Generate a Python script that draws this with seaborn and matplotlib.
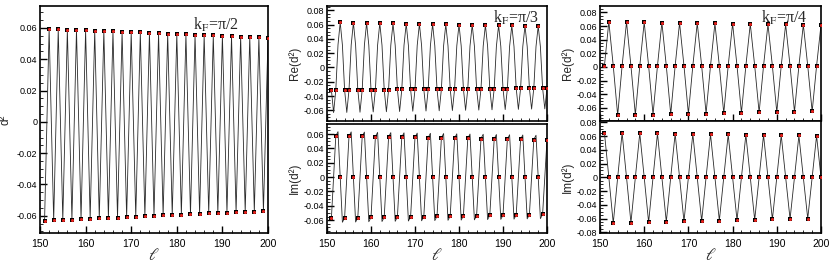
import numpy as np
import pandas as pd
import matplotlib
matplotlib.use("Agg")
import matplotlib.pyplot as plt
import seaborn as sns
from matplotlib.ticker import MultipleLocator, FuncFormatter

# --- kF = pi/2 : d^2 at integer l ---
l_odd = list(range(151, 200, 2))
l_even = list(range(152, 201, 2))
d2_low = [-.0632, -.0629, -.0627, -.0624, -.0622, -.0619, -.0616, -.0614, -.0611, -.0609,
          -.0606, -.0604, -.0601, -.0598, -.0596, -.0593, -.0591, -.0588, -.0585, -.0583,
          -.0580, -.0578, -.0575, -.0573, -.0570]
d2_up = [.0594, .0592, .0589, .0587, .0585, .0582, .0580, .0578, .0575, .0573,
         .0571, .0568, .0566, .0564, .0561, .0559, .0557, .0554, .0552, .0550,
         .0547, .0545, .0543, .0540, .0538]

# --- kF = pi/3 : curve read every half step, markers on integer l ---
l_half = [151 + 0.5 * i for i in range(99)]
re_pi3 = [-.0316, -.0632, -.0316, .0316,
          .0630, .0315, -.0315, -.0630, -.0315, .0315,
          .0627, .0313, -.0313, -.0627, -.0313, .0313,
          .0623, .0312, -.0312, -.0623, -.0312, .0312,
          .0620, .0310, -.0310, -.0620, -.0310, .0310,
          .0617, .0308, -.0308, -.0617, -.0308, .0308,
          .0613, .0307, -.0307, -.0613, -.0307, .0307,
          .0610, .0305, -.0305, -.0610, -.0305, .0305,
          .0607, .0303, -.0303, -.0607, -.0303, .0303,
          .0603, .0302, -.0302, -.0603, -.0302, .0302,
          .0600, .0300, -.0300, -.0600, -.0300, .0300,
          .0597, .0298, -.0298, -.0597, -.0298, .0298,
          .0593, .0297, -.0297, -.0593, -.0297, .0297,
          .0590, .0295, -.0295, -.0590, -.0295, .0295,
          .0587, .0293, -.0293, -.0587, -.0293, .0293,
          .0583, .0292, -.0292, -.0583, -.0292, .0292,
          .0580, .0290, -.0290, -.0580, -.0290]
im_pi3 = [-.0573, 0, .0573, .0633,
          0, -.0630, -.0570, 0, .0570, .0630,
          0, -.0627, -.0567, 0, .0567, .0627,
          0, -.0623, -.0563, 0, .0563, .0623,
          0, -.0620, -.0560, 0, .0560, .0620,
          0, -.0617, -.0557, 0, .0557, .0617,
          0, -.0613, -.0553, 0, .0553, .0613,
          0, -.0610, -.0550, 0, .0550, .0610,
          0, -.0607, -.0547, 0, .0547, .0607,
          0, -.0603, -.0543, 0, .0543, .0603,
          0, -.0600, -.0540, 0, .0540, .0600,
          0, -.0597, -.0537, 0, .0537, .0597,
          0, -.0593, -.0533, 0, .0533, .0593,
          0, -.0590, -.0530, 0, .0530, .0590,
          0, -.0587, -.0527, 0, .0527, .0587,
          0, -.0583, -.0523, 0, .0523, .0583,
          0, -.0580, -.0520, 0, .0520]

# --- kF = pi/4 : integer l ---
l_int = list(range(151, 201))
re_pi4 = [.0015, .0664, .0015, -.0710, .0015, .0660, .0015, -.0705,
          .0015, .0656, .0015, -.0700, .0015, .0652, .0015, -.0695,
          .0015, .0648, .0015, -.0690, .0015, .0644, .0015, -.0685,
          .0015, .0640, .0015, -.0680, .0015, .0636, .0015, -.0675,
          .0015, .0632, .0015, -.0670, .0015, .0628, .0015, -.0665,
          .0015, .0624, .0015, -.0660, .0015, .0620, .0015, -.0655,
          .0015, .0616]
im_pi4 = [.0650, 0, -.0666, 0, .0646, 0, -.0660, 0,
          .0643, 0, -.0654, 0, .0639, 0, -.0648, 0,
          .0635, 0, -.0642, 0, .0631, 0, -.0636, 0,
          .0628, 0, -.0630, 0, .0624, 0, -.0624, 0,
          .0620, 0, -.0618, 0, .0616, 0, -.0612, 0,
          .0613, 0, -.0606, 0, .0609, 0, -.0600, 0,
          .0605, 0]

RED = "#e3201b"

sns.set_theme(style="ticks")
plt.rcParams.update({
    "font.family": ["Liberation Sans", "DejaVu Sans"],
    "axes.unicode_minus": False,
    "mathtext.fontset": "stix",
    "axes.linewidth": 1.2,
})


def fmt(v, pos):
    return "0" if abs(v) < 1e-9 else f"{v:.2f}"


def style_axis(ax, ylim, show_x=True):
    ax.set_xlim(150, 200)
    ax.set_ylim(*ylim)
    ax.xaxis.set_major_locator(MultipleLocator(10))
    ax.xaxis.set_minor_locator(MultipleLocator(2))
    ax.yaxis.set_major_locator(MultipleLocator(0.02))
    ax.yaxis.set_minor_locator(MultipleLocator(0.005))
    ax.yaxis.set_major_formatter(FuncFormatter(fmt))
    ax.tick_params(which="major", direction="in", length=5, width=1, pad=2,
                   colors="black")
    ax.tick_params(which="minor", direction="in", length=2.5, width=0.7)
    ax.tick_params(axis="y", labelsize=6.5)
    ax.tick_params(axis="x", labelsize=7.5, pad=4)
    if not show_x:
        ax.tick_params(axis="x", labelbottom=False)
    for s in ax.spines.values():
        s.set_visible(True)
        s.set_linewidth(1.2)
        s.set_color("black")


def draw(ax, df_line, df_mark):
    sns.lineplot(data=df_line, x="l", y="v", ax=ax, color="#2a2a2a", linewidth=0.6,
                 estimator=None, sort=False)
    sns.scatterplot(data=df_mark, x="l", y="v", ax=ax, marker="s", s=9,
                    color="black", linewidth=0, zorder=4)
    sns.scatterplot(data=df_mark, x="l", y="v", ax=ax, marker="o", s=5,
                    color=RED, linewidth=0, zorder=5)
    ax.set_xlabel("")
    ax.set_ylabel("")


def kf_text(ax, txt, x, y):
    ax.text(x, y, txt, transform=ax.transAxes, ha="left", va="center",
            fontsize=11.5, family=["Liberation Serif", "DejaVu Serif"])


W, H = 830, 268
fig = plt.figure(figsize=(W / 100, H / 100), dpi=100)


def box(left, right, top, bottom):
    return [left / W, (H - bottom) / H, (right - left) / W, (bottom - top) / H]


# panel 1
ax1 = fig.add_axes(box(40, 268, 6, 233))
p1 = pd.concat([pd.DataFrame({"l": l_odd, "v": d2_low}),
                pd.DataFrame({"l": l_even, "v": d2_up})]).sort_values("l")
draw(ax1, p1, p1)
style_axis(ax1, (-0.071, 0.074))
ax1.set_ylabel("d²", fontsize=8.5, labelpad=4)
ax1.set_xlabel(r"$\ell$", fontsize=12, labelpad=-1)
kf_text(ax1, r"k$_{\mathrm{F}}$=π/2", 0.67, 0.915)

# panel 2
ax2a = fig.add_axes(box(327, 547, 6, 121))
ax2b = fig.add_axes(box(327, 547, 124, 233))
re3 = pd.DataFrame({"l": l_half, "v": re_pi3})
im3 = pd.DataFrame({"l": l_half, "v": im_pi3})
draw(ax2a, re3, re3[re3["l"] % 1 == 0])
draw(ax2b, im3, im3[im3["l"] % 1 == 0])
style_axis(ax2a, (-0.075, 0.086), show_x=False)
style_axis(ax2b, (-0.078, 0.074))
ax2a.set_ylabel("Re(d²)", fontsize=8.5, labelpad=2)
ax2b.set_ylabel("Im(d²)", fontsize=8.5, labelpad=2)
ax2b.set_xlabel(r"$\ell$", fontsize=12, labelpad=-1)
kf_text(ax2a, r"k$_{\mathrm{F}}$=π/3", 0.755, 0.9)

# panel 3
ax3a = fig.add_axes(box(600, 821, 6, 121))
ax3b = fig.add_axes(box(600, 821, 121, 233))
re4 = pd.DataFrame({"l": l_int, "v": re_pi4})
im4 = pd.DataFrame({"l": l_int, "v": im_pi4})
draw(ax3a, re4, re4)
draw(ax3b, im4, im4)
style_axis(ax3a, (-0.0795, 0.0895), show_x=False)
style_axis(ax3b, (-0.081, 0.082))
ax3a.set_ylabel("Re(d²)", fontsize=8.5, labelpad=2)
ax3b.set_ylabel("Im(d²)", fontsize=8.5, labelpad=2)
ax3b.set_xlabel(r"$\ell$", fontsize=12, labelpad=-1)
kf_text(ax3a, r"k$_{\mathrm{F}}$=π/4", 0.73, 0.9)

fig.savefig("out.png", dpi=100)
